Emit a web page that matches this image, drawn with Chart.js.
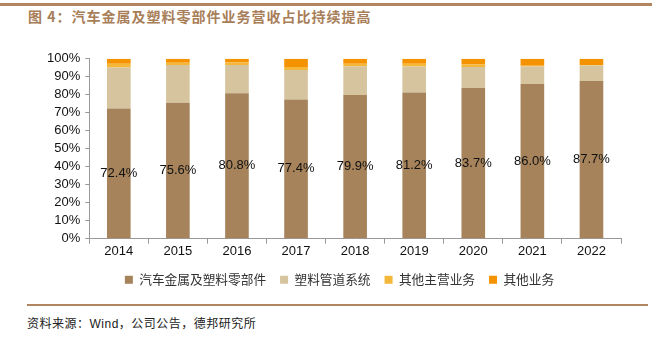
<!DOCTYPE html>
<html>
<head>
<meta charset="utf-8">
<script src="https://cdn.jsdelivr.net/npm/chart.js@4.4.1/dist/chart.umd.min.js"></script>
<style>
  body { margin: 0; width: 660px; height: 340px; background: #fff; position: relative; overflow: hidden; }
  .topline { position: absolute; left: 0; top: 3px; width: 652px; height: 3px; background: #B08560; }
  .title { position: absolute; left: 28px; top: 6px; font: bold 14px "Noto Sans CJK SC", sans-serif; color: #A87E58; letter-spacing: 1px; }
  .botline { position: absolute; left: 27px; top: 304px; width: 621px; height: 2px; background: #B08560; }
  .source { position: absolute; left: 27px; top: 314px; font: 12px "Noto Sans CJK SC", sans-serif; color: #222; letter-spacing: 0.5px; }
  .box { position: absolute; left: 0; top: 46px; width: 660px; height: 250px; }
</style>
</head>
<body>
<div class="topline"></div>
<div class="title">图 4：汽车金属及塑料零部件业务营收占比持续提高</div>
<div class="botline"></div>
<div class="source">资料来源：<span style="font-family:'Liberation Sans'">Wind</span>，公司公告，德邦研究所</div>
<div class="box"><canvas id="chart1" width="660" height="250"></canvas></div>
<script>
var years = ['2014', '2015', '2016', '2017', '2018', '2019', '2020', '2021', '2022'];
var autoParts = [72.4, 75.6, 80.8, 77.4, 79.9, 81.2, 83.7, 86.0, 87.7];
var pipes = [22.8, 20.9, 15.8, 16.4, 16.0, 14.5, 11.8, 9.7, 8.6];
var otherMain = [2.0, 1.3, 1.3, 1.7, 1.3, 1.5, 1.3, 0.5, 0.3];
var otherBiz = [2.8, 2.2, 2.1, 4.5, 2.8, 2.8, 3.2, 3.8, 3.4];

var labelPlugin = {
    id: 'midLabels',
    afterLayout: function (chart) {
        // nudge the legend to the right so it sits centred like the original
        chart.legend.left += 8;
        chart.legend.right += 8;
    },
    afterDatasetsDraw: function (chart) {
        var ctx = chart.ctx;
        var meta = chart.getDatasetMeta(0);
        ctx.save();
        ctx.font = '13px "Liberation Sans", Arial, sans-serif';
        ctx.fillStyle = '#111';
        ctx.textAlign = 'center';
        ctx.textBaseline = 'middle';
        meta.data.forEach(function (bar, i) {
            var y = (bar.y + bar.base) / 2;
            ctx.fillText(autoParts[i].toFixed(1) + '%', bar.x, y);
        });
        ctx.restore();
    }
};

var axisColor = '#999';
var ctx = document.getElementById('chart1').getContext('2d');
var myChart = new Chart(ctx, {
    type: 'bar',
    data: {
        labels: years,
        datasets: [
            { label: '汽车金属及塑料零部件', data: autoParts, backgroundColor: '#A6835B' },
            { label: '塑料管道系统', data: pipes, backgroundColor: '#D5C49D' },
            { label: '其他主营业务', data: otherMain, backgroundColor: '#F5B73A' },
            { label: '其他业务', data: otherBiz, backgroundColor: '#F59200' }
        ]
    },
    options: {
        responsive: false,
        maintainAspectRatio: false,
        animation: false,
        datasets: { bar: { categoryPercentage: 1, barPercentage: 0.40 } },
        layout: { padding: { left: 42, right: 39, top: 8, bottom: 0 } },
        plugins: {
            legend: {
                position: 'bottom',
                labels: {
                    boxWidth: 8,
                    boxHeight: 8,
                    padding: 14,
                    color: '#333',
                    font: { family: '"Noto Sans CJK SC"', size: 12.7 }
                }
            },
            tooltip: { enabled: false }
        },
        scales: {
            x: {
                stacked: true,
                grid: { display: true, drawOnChartArea: false, color: axisColor, tickLength: 5, offset: true },
                border: { color: axisColor },
                ticks: { color: '#111', font: { family: '"Liberation Sans"', size: 13 }, padding: 0 }
            },
            y: {
                stacked: true,
                min: 0,
                max: 100,
                grid: { display: true, drawOnChartArea: false, color: axisColor, tickLength: 4 },
                border: { color: axisColor },
                ticks: {
                    stepSize: 10,
                    autoSkip: false,
                    color: '#111',
                    font: { family: '"Liberation Sans"', size: 13 },
                    padding: 5,
                    callback: function (v) { return v + '%'; }
                }
            }
        }
    },
    plugins: [labelPlugin]
});
</script>
</body>
</html>
